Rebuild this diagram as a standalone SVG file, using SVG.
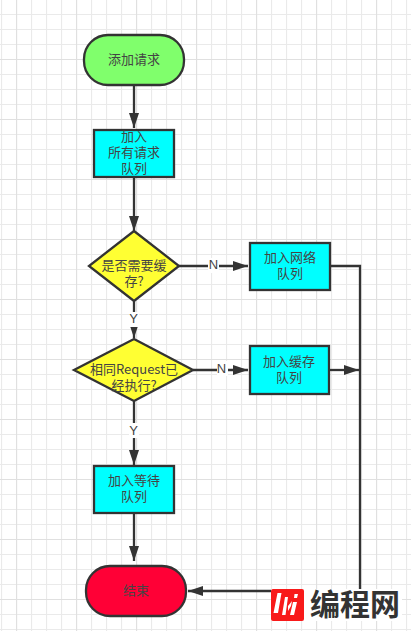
<svg xmlns="http://www.w3.org/2000/svg" width="411" height="631" viewBox="0 0 411 631">
<defs>
<pattern id="g1" width="15" height="15" patternUnits="userSpaceOnUse" x="1" y="14"><path d="M0.5 0V15M0 0.5H15" fill="none" stroke="#eaeaea" stroke-width="1.2"/></pattern>
<pattern id="g2" width="60" height="60" patternUnits="userSpaceOnUse" x="16" y="59"><path d="M0.5 0V60M0 0.5H60" fill="none" stroke="#e0e0e0" stroke-width="1.2"/></pattern>
<marker id="a" markerUnits="userSpaceOnUse" markerWidth="16" markerHeight="11" refX="15" refY="5" orient="auto"><path d="M0 0L15 5L0 10Z" fill="#333"/></marker>
</defs>
<style>
.t{font-family:"Noto Sans CJK SC","Liberation Sans",sans-serif;font-size:13px;fill:#444;text-anchor:middle}
.l{font-family:"Liberation Sans",sans-serif;font-size:13px;fill:#444;text-anchor:middle}
.s{stroke:#333;stroke-width:2.300}
.c{fill:none;stroke:#333;stroke-width:2.300}
.lb{fill:#fff}
</style>
<rect width="411" height="631" fill="#fff"/>
<rect width="411" height="631" fill="url(#g1)"/>
<rect width="411" height="631" fill="url(#g2)"/>
<g id="connectors">
<path class="c" d="M134 85V128" marker-end="url(#a)"/>
<path class="c" d="M134 177V231" marker-end="url(#a)"/>
<path class="c" d="M179 266H248" marker-end="url(#a)"/>
<path class="c" d="M134 301V338" marker-end="url(#a)"/>
<path class="c" d="M193 370H248" marker-end="url(#a)"/>
<path class="c" d="M134 401V465" marker-end="url(#a)"/>
<path class="c" d="M134 513V561" marker-end="url(#a)"/>
<path class="c" d="M330 266H360V589"/>
<path class="c" d="M329 370H359" marker-end="url(#a)"/>
<path class="c" d="M272 591H188" marker-end="url(#a)"/>
<rect class="lb" x="208" y="258" width="11" height="15"/><text class="l" x="213.500" y="269">N</text>
<rect class="lb" x="217" y="361" width="11" height="15"/><text class="l" x="221.500" y="373">N</text>
<rect class="lb" x="129" y="312" width="10" height="15"/><text class="l" x="133.500" y="323">Y</text>
<rect class="lb" x="129" y="423" width="10" height="15"/><text class="l" x="133.500" y="435">Y</text>
</g>
<g id="start"><rect class="s" x="84" y="35" width="100" height="50" rx="24" fill="#80ff6c"/><text class="t" x="134" y="64">添加请求</text></g>
<g id="all-queue"><rect class="s" x="94" y="130" width="80" height="47" fill="#00ffff"/><text class="t" x="134" y="141">加入<tspan x="134" dy="16">所有请求</tspan><tspan x="134" dy="16">队列</tspan></text></g>
<g id="need-cache"><path class="s" d="M134 231L179 266L134 301L89 266Z" fill="#ffff33"/><text class="t" x="134" y="270">是否需要缓<tspan x="134" dy="16">存?</tspan></text></g>
<g id="net-queue"><rect class="s" x="250" y="243" width="80" height="47" fill="#00ffff"/><text class="t" x="290" y="262">加入网络<tspan x="290" dy="16">队列</tspan></text></g>
<g id="same-request"><path class="s" d="M134 339L193 370L134 401L74 370Z" fill="#ffff33"/><text class="t" x="134" y="374">相同Request已<tspan x="134" dy="16">经执行?</tspan></text></g>
<g id="cache-queue"><rect class="s" x="250" y="346" width="79" height="48" fill="#00ffff"/><text class="t" x="289" y="366">加入缓存<tspan x="289" dy="16">队列</tspan></text></g>
<g id="wait-queue"><rect class="s" x="94" y="466" width="80" height="47" fill="#00ffff"/><text class="t" x="134" y="485">加入等待<tspan x="134" dy="16">队列</tspan></text></g>
<g id="end"><rect class="s" x="86" y="566" width="100" height="50" rx="24" fill="#ff0036"/><text class="t" x="136" y="595">结束</text></g>
<g id="watermark">
<rect x="271" y="589" width="131" height="32" fill="#fff"/>
<rect x="271" y="589" width="33" height="32" rx="2" fill="#f81a1a"/>
<path d="M277.500 593L281.500 593L278 613L273.500 613ZM285 597L288 597L285.500 615L282 615ZM288 606L292 601L291 606L288 611ZM293 602L297 602L294 615L290 615ZM294.500 594L298 594L297 598L294 598Z" fill="#fff"/>
<text x="355" y="615" text-anchor="middle" style="font-family:'Noto Sans CJK SC',sans-serif;font-size:30px;font-weight:700;fill:#333">编程网</text>
</g>
</svg>
